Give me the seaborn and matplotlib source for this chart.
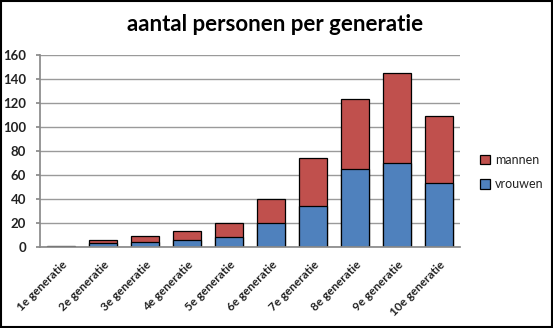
import matplotlib
matplotlib.use("Agg")
import matplotlib.pyplot as plt
import seaborn as sns
import pandas as pd
from matplotlib.patches import Rectangle

categories = ["1e generatie", "2e generatie", "3e generatie", "4e generatie", "5e generatie",
              "6e generatie", "7e generatie", "8e generatie", "9e generatie", "10e generatie"]
vrouwen = [0, 3, 4, 6, 8, 20, 34, 65, 70, 53]
mannen = [1, 3, 5, 7, 12, 20, 40, 58, 75, 56]
yticks = [0, 20, 40, 60, 80, 100, 120, 140, 160]

BLUE = "#4F81BD"
RED = "#C0504D"

sns.set_theme(style="white")
plt.rcParams["font.family"] = ["Lato", "DejaVu Sans"]

df = pd.DataFrame({"generatie": categories, "vrouwen": vrouwen, "mannen": mannen})
df["totaal"] = df["vrouwen"] + df["mannen"]

fig = plt.figure(figsize=(5.53, 3.28), dpi=100)
fig.patch.set_facecolor("white")
ax = fig.add_axes([40 / 553, 81.3 / 328, 420 / 553, 191.7 / 328])

sns.barplot(data=df, x="generatie", y="totaal", color=RED, saturation=1, width=0.66,
            edgecolor="black", linewidth=0.9, ax=ax, label="mannen")
sns.barplot(data=df, x="generatie", y="vrouwen", color=BLUE, saturation=1, width=0.66,
            edgecolor="black", linewidth=0.9, ax=ax, label="vrouwen")

ax.set_ylim(0, 160)
ax.set_xlim(-0.5, len(categories) - 0.5)
ax.set_yticks(yticks)
ax.set_yticklabels([str(v) for v in yticks], fontsize=9.5, fontweight="bold", color="#222222")
ax.set_xticks(range(len(categories)))
ax.set_xticklabels(categories, rotation=45, ha="right", rotation_mode="anchor",
                   fontsize=8.5, fontweight="bold", color="#222222")
ax.set_xlabel("")
ax.set_ylabel("")
ax.yaxis.grid(True, color="#9a9a9a", linewidth=1)
ax.set_axisbelow(True)
for s in ["top", "right"]:
    ax.spines[s].set_visible(False)
ax.spines["left"].set_color("#8a8a8a")
ax.spines["bottom"].set_color("#8a8a8a")
ax.tick_params(axis="y", length=3, color="#8a8a8a", pad=7, left=True)
ax.tick_params(axis="x", length=0, pad=9)

h, l = ax.get_legend_handles_labels()
leg = ax.legend(h, l, loc="center left", bbox_to_anchor=(1.02, 0.39), frameon=False,
                fontsize=9, handlelength=0.8, handleheight=0.8, handletextpad=0.4,
                labelspacing=1.0)
for t in leg.get_texts():
    t.set_color("#222222")

fig.text(0.497, 0.924, "aantal personen per generatie", ha="center", va="center",
         fontsize=16, fontweight="bold", color="black")

fig.add_artist(Rectangle((0.001, 0.002), 0.997, 0.995, transform=fig.transFigure,
                         fill=False, edgecolor="black", linewidth=1.5))

fig.savefig("out.png", dpi=100, facecolor="white")
